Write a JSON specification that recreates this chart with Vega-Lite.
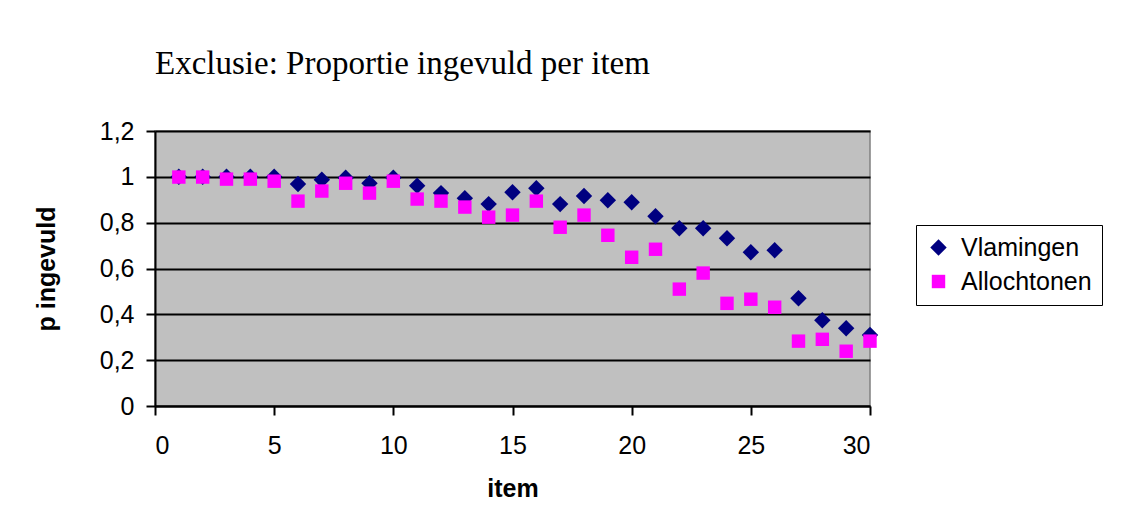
{
  "$schema": "https://vega.github.io/schema/vega-lite/v6.json",
  "width": 715,
  "height": 275,
  "autosize": "none",
  "padding": {"left": 155, "top": 131, "right": 256, "bottom": 125},
  "background": "white",
  "title": {
    "text": "Exclusie: Proportie ingevuld per item",
    "anchor": "start",
    "frame": "group",
    "font": "Liberation Serif",
    "fontSize": 33,
    "fontWeight": "normal",
    "color": "black",
    "offset": 38
  },
  "config": {
    "view": {"fill": "#C0C0C0", "stroke": "#808080", "strokeWidth": 1.5},
    "axis": {
      "labelFont": "Liberation Sans",
      "labelFontSize": 25,
      "labelColor": "black",
      "titleFont": "Liberation Sans",
      "titleFontSize": 25,
      "titleFontWeight": "bold",
      "titleColor": "black",
      "domainColor": "black",
      "domainWidth": 2,
      "tickColor": "black",
      "tickWidth": 2,
      "tickSize": 9
    }
  },
  "data": {
    "values": [
      {"item": 1, "series": "Vlamingen", "p": 1.0},
      {"item": 2, "series": "Vlamingen", "p": 1.0},
      {"item": 3, "series": "Vlamingen", "p": 1.0},
      {"item": 4, "series": "Vlamingen", "p": 1.0},
      {"item": 5, "series": "Vlamingen", "p": 1.0},
      {"item": 6, "series": "Vlamingen", "p": 0.969},
      {"item": 7, "series": "Vlamingen", "p": 0.987},
      {"item": 8, "series": "Vlamingen", "p": 0.996},
      {"item": 9, "series": "Vlamingen", "p": 0.972},
      {"item": 10, "series": "Vlamingen", "p": 0.996},
      {"item": 11, "series": "Vlamingen", "p": 0.961},
      {"item": 12, "series": "Vlamingen", "p": 0.929},
      {"item": 13, "series": "Vlamingen", "p": 0.907},
      {"item": 14, "series": "Vlamingen", "p": 0.881},
      {"item": 15, "series": "Vlamingen", "p": 0.933},
      {"item": 16, "series": "Vlamingen", "p": 0.95},
      {"item": 17, "series": "Vlamingen", "p": 0.881},
      {"item": 18, "series": "Vlamingen", "p": 0.916},
      {"item": 19, "series": "Vlamingen", "p": 0.898},
      {"item": 20, "series": "Vlamingen", "p": 0.889},
      {"item": 21, "series": "Vlamingen", "p": 0.828},
      {"item": 22, "series": "Vlamingen", "p": 0.776},
      {"item": 23, "series": "Vlamingen", "p": 0.776},
      {"item": 24, "series": "Vlamingen", "p": 0.732},
      {"item": 25, "series": "Vlamingen", "p": 0.671},
      {"item": 26, "series": "Vlamingen", "p": 0.68},
      {"item": 27, "series": "Vlamingen", "p": 0.47},
      {"item": 28, "series": "Vlamingen", "p": 0.374},
      {"item": 29, "series": "Vlamingen", "p": 0.339},
      {"item": 30, "series": "Vlamingen", "p": 0.31},
      {"item": 1, "series": "Allochtonen", "p": 0.999},
      {"item": 2, "series": "Allochtonen", "p": 0.999},
      {"item": 3, "series": "Allochtonen", "p": 0.99},
      {"item": 4, "series": "Allochtonen", "p": 0.99},
      {"item": 5, "series": "Allochtonen", "p": 0.981},
      {"item": 6, "series": "Allochtonen", "p": 0.894},
      {"item": 7, "series": "Allochtonen", "p": 0.938},
      {"item": 8, "series": "Allochtonen", "p": 0.972},
      {"item": 9, "series": "Allochtonen", "p": 0.929},
      {"item": 10, "series": "Allochtonen", "p": 0.981},
      {"item": 11, "series": "Allochtonen", "p": 0.903},
      {"item": 12, "series": "Allochtonen", "p": 0.894},
      {"item": 13, "series": "Allochtonen", "p": 0.868},
      {"item": 14, "series": "Allochtonen", "p": 0.824},
      {"item": 15, "series": "Allochtonen", "p": 0.833},
      {"item": 16, "series": "Allochtonen", "p": 0.894},
      {"item": 17, "series": "Allochtonen", "p": 0.78},
      {"item": 18, "series": "Allochtonen", "p": 0.833},
      {"item": 19, "series": "Allochtonen", "p": 0.745},
      {"item": 20, "series": "Allochtonen", "p": 0.649},
      {"item": 21, "series": "Allochtonen", "p": 0.684},
      {"item": 22, "series": "Allochtonen", "p": 0.51},
      {"item": 23, "series": "Allochtonen", "p": 0.58},
      {"item": 24, "series": "Allochtonen", "p": 0.448},
      {"item": 25, "series": "Allochtonen", "p": 0.466},
      {"item": 26, "series": "Allochtonen", "p": 0.431},
      {"item": 27, "series": "Allochtonen", "p": 0.283},
      {"item": 28, "series": "Allochtonen", "p": 0.291},
      {"item": 29, "series": "Allochtonen", "p": 0.239},
      {"item": 30, "series": "Allochtonen", "p": 0.283}
    ]
  },
  "mark": {"type": "point", "filled": true, "opacity": 1, "clip": false},
  "encoding": {
    "x": {
      "field": "item",
      "type": "quantitative",
      "scale": {"domain": [0, 30], "nice": false, "zero": false},
      "axis": {"values": [0, 5, 10, 15, 20, 25, 30], "grid": false, "title": "item", "titlePadding": 18, "labelPadding": 18}
    },
    "y": {
      "field": "p",
      "type": "quantitative",
      "scale": {"domain": [0, 1.2], "nice": false},
      "axis": {
        "values": [0, 0.2, 0.4, 0.6, 0.8, 1, 1.2],
        "grid": true,
        "gridColor": "black",
        "gridWidth": 2,
        "gridOpacity": 1,
        "title": "p ingevuld",
        "titlePadding": 40,
        "labelPadding": 12,
        "labelExpr": "replace(format(datum.value, '.1~f'), '.', ',')"
      }
    },
    "color": {
      "field": "series",
      "type": "nominal",
      "scale": {"domain": ["Vlamingen", "Allochtonen"], "range": ["#000080", "#FF00FF"]},
      "legend": {
        "title": null,
        "orient": "none",
        "legendX": 761,
        "legendY": 94,
        "labelFont": "Liberation Sans",
        "labelFontSize": 25,
        "labelColor": "black",
        "symbolSize": 110,
        "strokeColor": "black",
        "padding": 10,
        "rowPadding": 8,
        "labelOffset": 10,
        "fillColor": "white"
      }
    },
    "shape": {
      "field": "series",
      "type": "nominal",
      "scale": {"domain": ["Vlamingen", "Allochtonen"], "range": ["diamond", "square"]},
      "legend": null
    },
    "size": {
      "field": "series",
      "type": "nominal",
      "scale": {"domain": ["Vlamingen", "Allochtonen"], "range": [270, 180]},
      "legend": null
    }
  }
}
